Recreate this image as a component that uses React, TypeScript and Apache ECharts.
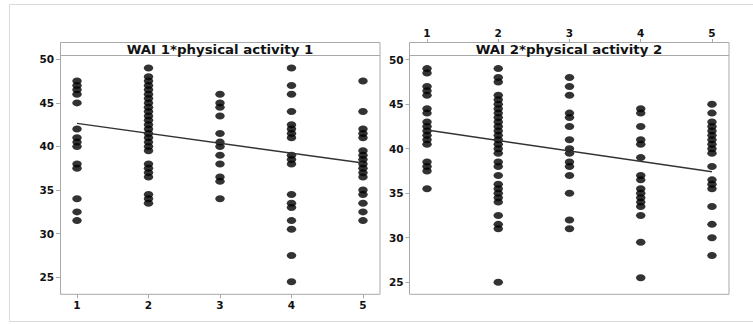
import React, { useEffect, useRef } from "react";
import * as echarts from "echarts";

const activityLevels = [1, 2, 3, 4, 5];
const yTicks = [25, 30, 35, 40, 45, 50];
const panelTitles = ["WAI 1*physical activity 1", "WAI 2*physical activity 2"];

// Panel 1: WAI 1 by physical activity 1
const wai1Level1 = [47.5, 47, 46.5, 46, 45, 42, 41, 40.5, 40, 38, 37.5, 34, 32.5, 31.5];
const wai1Level2 = [49, 48, 47.5, 47, 46.5, 46, 45.5, 45, 44.5, 44, 43.5, 43, 42.5, 42, 41.5, 41, 40.5, 40, 39.5, 38, 37.5, 37, 36.5, 34.5, 34, 33.5];
const wai1Level3 = [46, 45, 44.5, 43.5, 41.5, 40.5, 40, 39, 38, 36.5, 36, 34];
const wai1Level4 = [49, 47, 46, 44, 42.5, 42, 41.5, 41, 39, 38.5, 38, 34.5, 33.5, 33, 31.5, 30.5, 27.5, 24.5];
const wai1Level5 = [47.5, 44, 42, 41.5, 41, 39.5, 39, 38.5, 38, 37.5, 37, 36.5, 35, 34.5, 33.5, 32.5, 31.5];
const fit1 = [42.65, 38.1]; // fitted WAI at activity 1 and 5

// Panel 2: WAI 2 by physical activity 2
const wai2Level1 = [49, 48.5, 47, 46.5, 46, 44.5, 44, 43, 42.5, 42, 41.5, 41, 40.5, 38.5, 38, 37.5, 35.5];
const wai2Level2 = [49, 48, 47.5, 46, 45.5, 45, 44.5, 44, 43.5, 43, 42.5, 42, 41.5, 41, 40.5, 40, 39.5, 38.5, 38, 37, 36, 35.5, 35, 34.5, 34, 32.5, 31.5, 31, 25];
const wai2Level3 = [48, 47, 46, 44, 43.5, 42.5, 41, 40, 39.5, 38.5, 38, 37, 35, 32, 31];
const wai2Level4 = [44.5, 44, 42.5, 41, 40.5, 39, 37, 36.5, 35.5, 35, 34.5, 34, 33.5, 32.5, 29.5, 25.5];
const wai2Level5 = [45, 44, 43, 42.5, 42, 41.5, 41, 40.5, 40, 39.5, 38, 36.5, 36, 35.5, 33.5, 31.5, 30, 28];
const fit2 = [42.1, 37.4];

const panel1Cols = [wai1Level1, wai1Level2, wai1Level3, wai1Level4, wai1Level5];
const panel2Cols = [wai2Level1, wai2Level2, wai2Level3, wai2Level4, wai2Level5];

const toPoints = (cols: number[][]) =>
  cols.flatMap((vals, i) => vals.map((v) => [activityLevels[i], v]));

const FONT = "'DejaVu Sans', 'Open Sans', sans-serif";
const BOX = "#a9a9a9";
const DOT = "path://M0,3A4.5,3,0,1,1,9,3A4.5,3,0,1,1,0,3Z";

export default function App() {
  const ref = useRef<HTMLDivElement>(null);
  useEffect(() => {
    if (!ref.current) return;
    const chart = echarts.init(ref.current, undefined, { renderer: "svg" });
    const axisCommon = {
      type: "value" as const,
      axisLine: { show: false },
      splitLine: { show: false },
      axisTick: { show: true, length: 4, lineStyle: { color: BOX, width: 1 } },
    };
    const labelStyle = { color: "#111", fontSize: 10.5, fontFamily: FONT, fontWeight: 600 };
    const xAxisFor = (gridIndex: number, min: number, max: number, pos: "top" | "bottom", offset: number) => ({
      ...axisCommon,
      gridIndex,
      min,
      max,
      position: pos,
      offset,
      axisTick: { ...axisCommon.axisTick, customValues: activityLevels },
      axisLabel: { ...labelStyle, customValues: activityLevels, margin: 5 },
    });
    const yAxisFor = (gridIndex: number, min: number, max: number) => ({
      ...axisCommon,
      gridIndex,
      min,
      max,
      axisTick: { ...axisCommon.axisTick, customValues: yTicks },
      axisLabel: { ...labelStyle, customValues: yTicks, margin: 6 },
    });
    const lineSeries = (idx: number, fit: number[]) => ({
      type: "line",
      xAxisIndex: idx,
      yAxisIndex: idx,
      data: [
        [activityLevels[0], fit[0]],
        [activityLevels[activityLevels.length - 1], fit[1]],
      ],
      symbol: "none",
      lineStyle: { color: "#333", width: 1.5 },
      z: 5,
      silent: true,
    });
    const scatterSeries = (idx: number, cols: number[][]) => ({
      type: "scatter",
      xAxisIndex: idx,
      yAxisIndex: idx,
      data: toPoints(cols),
      symbol: DOT,
      symbolSize: [9.5, 7],
      itemStyle: { color: "#000" },
      z: 3,
    });
    const box = (x: number) => [
      {
        type: "rect",
        shape: { x: x + 0.5, y: 42.5, width: 319.5, height: 251.8 },
        style: { fill: "none", stroke: BOX, lineWidth: 1 },
        z: 10,
      },
      {
        type: "line",
        shape: { x1: x + 0.5, y1: 55.5, x2: x + 320, y2: 55.5 },
        style: { stroke: BOX, lineWidth: 1 },
        z: 10,
      },
    ];
    const title = (cx: number, text: string) => ({
      type: "text",
      x: cx,
      y: 49.5,
      scaleX: 1.16,
      style: {
        text,
        font: `bold 11.5px ${FONT}`,
        fill: "#111",
        align: "center",
        verticalAlign: "middle",
      },
      z: 11,
    });
    chart.setOption({
      animation: false,
      backgroundColor: "#fff",
      grid: [
        { left: 60, top: 55, width: 320, height: 239.3, containLabel: false },
        { left: 409.5, top: 55, width: 319.5, height: 239.3, containLabel: false },
      ],
      xAxis: [
        xAxisFor(0, 0.762, 5.238, "bottom", 0),
        xAxisFor(1, 0.754, 5.239, "top", 12),
      ],
      yAxis: [yAxisFor(0, 23.05, 50.49), yAxisFor(1, 23.64, 50.53)],
      series: [
        scatterSeries(0, panel1Cols),
        scatterSeries(1, panel2Cols),
        lineSeries(0, fit1),
        lineSeries(1, fit2),
      ],
      graphic: [
        {
          type: "rect",
          shape: { x: 9.5, y: 4.5, width: 760, height: 317 },
          style: { fill: "none", stroke: "#dadada", lineWidth: 1 },
          z: 0,
          silent: true,
        },
        ...box(60),
        ...box(409),
        title(220, panelTitles[0]),
        title(569, panelTitles[1]),
      ],
    });
    return () => chart.dispose();
  }, []);
  return (
    <div
      ref={ref}
      style={{ position: "fixed", left: 0, top: 0, width: 753, height: 324 }}
    />
  );
}
